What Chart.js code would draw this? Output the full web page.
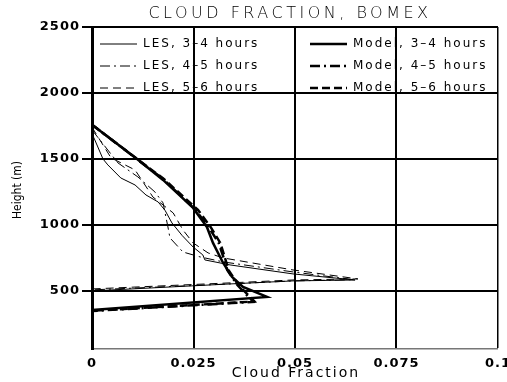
<!DOCTYPE html>
<html>
<head>
<meta charset="utf-8">
<script src="https://cdn.jsdelivr.net/npm/chart.js@4.4.1/dist/chart.umd.min.js"></script>
<style>
html, body { margin: 0; padding: 0; background: #fff; }
#wrap { width: 507px; height: 382px; }
</style>
</head>
<body>
<div id="wrap"><canvas id="cloud-chart" width="507" height="382"></canvas></div>
<script>
// Cloud fraction profiles (fraction vs height in m), traced top to bottom
const les34Frac   = [0, 0.0007, 0.0027, 0.0039, 0.0071, 0.0106, 0.0133, 0.0163, 0.0180, 0.0197, 0.0222, 0.0249, 0.0273, 0.0278, 0.0340, 0.0495, 0.0648, 0.0495, 0.0340, 0];
const les34Height = [1690, 1644, 1500, 1455, 1356, 1303, 1227, 1174, 1110, 1015, 920, 833, 773, 735, 697, 629, 583, 576, 553, 500];

const les45Frac   = [0, 0.0064, 0.0113, 0.0155, 0.0175, 0.0187, 0.0192, 0.0224, 0.0266, 0.0323, 0.0495, 0.0645, 0.0495, 0.0340, 0];
const les45Height = [1720, 1470, 1364, 1250, 1167, 985, 902, 795, 758, 720, 644, 585, 576, 553, 508];

const les56Frac   = [0, 0.0047, 0.0106, 0.0150, 0.0200, 0.0224, 0.0249, 0.0286, 0.0323, 0.0495, 0.0655, 0.0495, 0.0340, 0];
const les56Height = [1740, 1508, 1417, 1212, 1091, 962, 864, 788, 750, 659, 591, 583, 561, 515];

const mod34Frac   = [0, 0.0111, 0.0175, 0.0249, 0.0283, 0.0298, 0.0323, 0.0345, 0.0372, 0.0431, 0];
const mod34Height = [1760, 1500, 1341, 1129, 985, 864, 712, 606, 530, 455, 356];

const mod45Frac   = [0, 0.0110, 0.0175, 0.0255, 0.0287, 0.0312, 0.0326, 0.0333, 0.0358, 0.0397, 0];
const mod45Height = [1760, 1500, 1348, 1114, 985, 864, 735, 659, 545, 417, 348];

const mod56Frac   = [0, 0.0111, 0.0177, 0.0261, 0.0292, 0.0316, 0.0329, 0.0336, 0.0361, 0.0400, 0];
const mod56Height = [1760, 1500, 1348, 1114, 985, 864, 735, 659, 545, 420, 350];

const seriesNames = ['LES, 3\u20134 hours', 'LES, 4\u20135 hours', 'LES, 5\u20136 hours',
                     'Model, 3\u20134 hours', 'Model, 4\u20135 hours', 'Model, 5\u20136 hours'];

const xTicks = [0, 0.025, 0.05, 0.075, 0.1];
const yTicks = [500, 1000, 1500, 2000, 2500];

function toPoints(xs, ys) {
    return xs.map((x, i) => ({ x: x, y: ys[i] }));
}

function profile(label, xs, ys, width, dash) {
    return {
        label: label,
        data: toPoints(xs, ys),
        showLine: true,
        borderColor: '#000',
        borderWidth: width,
        borderDash: dash,
        pointRadius: 0,
        pointHoverRadius: 0,
        tension: 0,
        fill: false
    };
}

// legend drawn inside the plot, two columns of three
const insideLegend = {
    id: 'insideLegend',
    afterDatasetsDraw(chart) {
        const ctx = chart.ctx;
        ctx.save();
        ctx.font = '12px "DejaVu Sans"';
        ctx.letterSpacing = '2px';
        ctx.fillStyle = '#000';
        ctx.textBaseline = 'middle';
        chart.data.datasets.forEach((ds, i) => {
            const col = i < 3 ? 0 : 1;
            const row = i % 3;
            const x0 = col === 0 ? 100 : 310;
            const y = 44 + row * 22;
            ctx.beginPath();
            ctx.lineWidth = ds.borderWidth;
            ctx.strokeStyle = '#000';
            ctx.setLineDash(ds.borderDash || []);
            ctx.moveTo(x0, y);
            ctx.lineTo(x0 + 37, y);
            ctx.stroke();
            ctx.setLineDash([]);
            ctx.fillText(ds.label, x0 + 43, y);
        });
        ctx.restore();
    }
};

// title and axis titles
const chartText = {
    id: 'chartText',
    beforeDraw(chart) {
        chart.ctx.letterSpacing = '1px';
    },
    afterDraw(chart) {
        const ctx = chart.ctx;
        ctx.save();
        ctx.fillStyle = '#000';
        ctx.textAlign = 'center';
        ctx.textBaseline = 'middle';

        ctx.font = '200 16px "DejaVu Sans"';
        ctx.letterSpacing = '3.5px';
        ctx.fillText('CLOUD FRACTION, BOMEX', 290, 14);

        ctx.font = '14px "DejaVu Sans"';
        ctx.letterSpacing = '2px';
        ctx.fillText('Cloud Fraction', 296, 373);

        ctx.letterSpacing = '0px';
        ctx.font = '12px "DejaVu Sans Condensed", "Liberation Sans Narrow"';
        ctx.translate(18, 190);
        ctx.rotate(-Math.PI / 2);
        ctx.fillText('Height (m)', 0, 0);
        ctx.restore();
    }
};

const ctx = document.getElementById('cloud-chart');

const chartData = {
    datasets: [
        profile(seriesNames[0], les34Frac, les34Height, 1, []),
        profile(seriesNames[1], les45Frac, les45Height, 1, [10, 4, 2, 4]),
        profile(seriesNames[2], les56Frac, les56Height, 1, [8, 5]),
        profile(seriesNames[3], mod34Frac, mod34Height, 2.5, []),
        profile(seriesNames[4], mod45Frac, mod45Height, 2.5, [10, 4, 2, 4]),
        profile(seriesNames[5], mod56Frac, mod56Height, 2.5, [8, 4])
    ]
};

const chartOptions = {
    responsive: false,
    animation: false,
    devicePixelRatio: 1,
    layout: { padding: { top: 27, right: 9, left: 0, bottom: 0 } },
    plugins: {
        legend: { display: false },
        title: { display: false },
        tooltip: { enabled: false }
    },
    scales: {
        x: {
            type: 'linear',
            min: 0,
            max: 0.1,
            afterBuildTicks: scale => { scale.ticks = xTicks.map(v => ({ value: v })); },
            afterFit: scale => {
                scale.height = 33;
                scale.paddingLeft = 0; scale.paddingRight = 0;
            },
            ticks: {
                color: '#000',
                padding: 7,
                maxRotation: 0,
                autoSkip: false,
                font: { family: 'DejaVu Sans', size: 13, weight: 'bold' },
                callback: v => String(+Number(v).toFixed(3))
            },
            grid: {
                color: '#000',
                drawTicks: false,
                lineWidth: c => {
                    if (!c.tick) return 2;
                    if (c.tick.value === 0) return 0;
                    if (c.tick.value === 0.1) return 1.5;
                    return 2;
                }
            },
            border: { color: '#777', width: 1.5 }
        },
        y: {
            type: 'linear',
            min: 60,
            max: 2500,
            afterBuildTicks: scale => { scale.ticks = yTicks.map(v => ({ value: v })); },
            afterFit: scale => {
                scale.width = 92;
                scale.paddingTop = 0; scale.paddingBottom = 0;
            },
            ticks: {
                color: '#000',
                padding: 2,
                autoSkip: false,
                font: { family: 'DejaVu Sans', size: 13, weight: 'bold' },
                callback: v => String(v)
            },
            grid: {
                color: '#000',
                lineWidth: 2,
                drawTicks: true,
                tickLength: 10
            },
            border: { color: '#000', width: 3 }
        }
    }
};

const cloudChart = new Chart(ctx, {
    type: 'scatter',
    data: chartData,
    options: chartOptions,
    plugins: [insideLegend, chartText]
});
</script>
</body>
</html>
